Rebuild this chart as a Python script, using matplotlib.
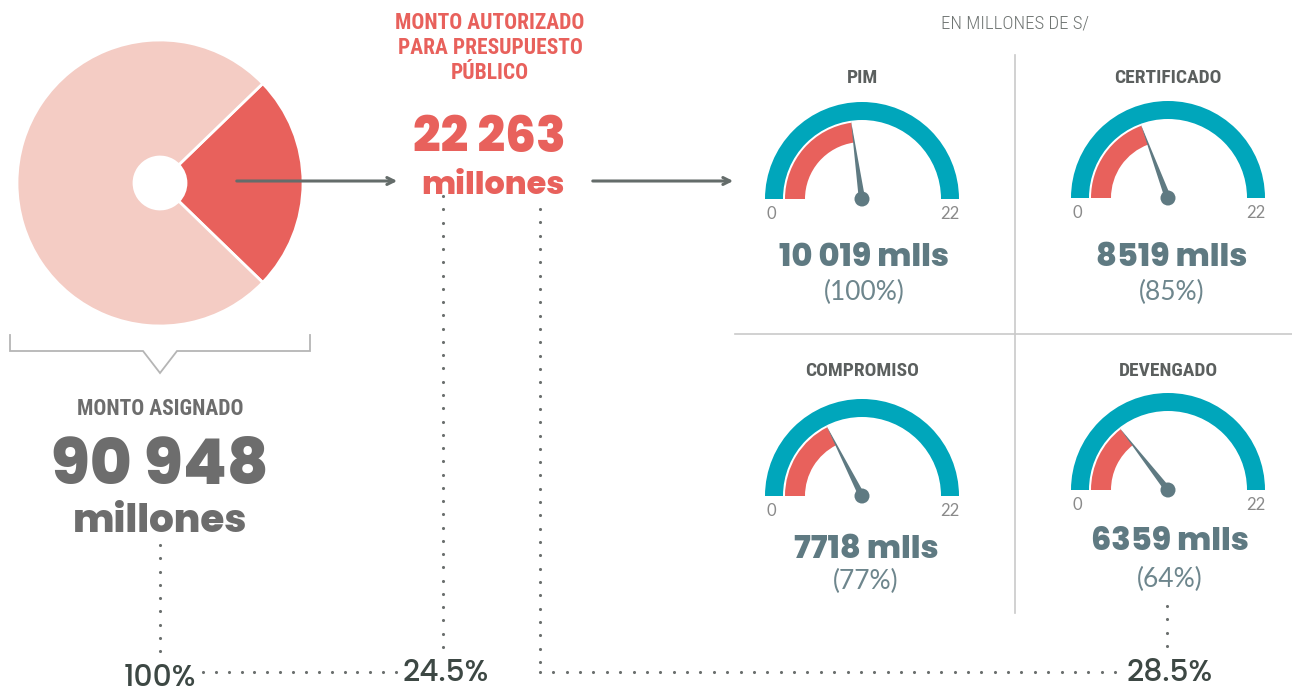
import numpy as np
import matplotlib
matplotlib.use("Agg")
import matplotlib.pyplot as plt
from matplotlib import font_manager
from matplotlib.patches import Wedge, Circle, Polygon

# ---------------- data ----------------
monto_asignado = 90948          # millones S/
monto_autorizado = 22263        # millones S/
gauge_categories = ["PIM", "CERTIFICADO", "COMPROMISO", "DEVENGADO"]
gauge_values = [10019, 8519, 7718, 6359]          # millones S/
gauge_value_labels = ["10 019 mlls", "8519 mlls", "7718 mlls", "6359 mlls"]
gauge_pct_labels = ["(100%)", "(85%)", "(77%)", "(64%)"]
gauge_min_label = "0"
gauge_max_label = "22"
gauge_max = 22000                                  # millones S/
bottom_pct_labels = ["100%", "24.5%", "28.5%"]

# ---------------- fonts ----------------
avail = {f.name for f in font_manager.fontManager.ttflist}
def pick(cands):
    for c in cands:
        if c in avail:
            return c
    return "DejaVu Sans"
COND = pick(["Roboto Condensed", "Liberation Sans Narrow", "Open Sans Condensed", "Roboto"])
GEO = pick(["Poppins", "Lato", "Roboto"])
LIGHT = pick(["Lato", "Roboto", "Open Sans"])

RED = "#e8615c"
PINK = "#f4ccc4"
TEAL = "#00a6bb"
SLATE = "#5f7a82"
GRAY = "#6d6d6d"
DOT = "#6b6f6e"

W, H = 1292, 689
fig = plt.figure(figsize=(W / 100, H / 100), dpi=100)
ax = fig.add_axes([0, 0, 1, 1])
def Y(y):
    return H - y

# ---------------- donut ----------------
frac = monto_autorizado / monto_asignado
ax.pie([monto_autorizado, monto_asignado - monto_autorizado],
       colors=[RED, PINK], startangle=-frac * 180, counterclock=True,
       center=(160, Y(183)), radius=143,
       wedgeprops=dict(width=143 - 26, edgecolor="white", linewidth=2))
ax.set_xlim(0, W)
ax.set_ylim(0, H)
ax.set_aspect("equal")
ax.axis("off")

# bracket under donut
bx = [10, 10, 143, 160, 177, 310, 310]
by = [Y(335), Y(351), Y(351), Y(373), Y(351), Y(351), Y(335)]
ax.plot(bx, by, color="#b5b5b5", lw=1.3, solid_joinstyle="miter")

# arrows
ax.annotate("", xy=(400, Y(181)), xytext=(234, Y(181)),
            arrowprops=dict(arrowstyle="->,head_length=0.5,head_width=0.25",
                            color="#646c6a", lw=2.2))
ax.annotate("", xy=(736, Y(181)), xytext=(590, Y(181)),
            arrowprops=dict(arrowstyle="->,head_length=0.5,head_width=0.25",
                            color="#646c6a", lw=2.2))

# ---------------- center texts ----------------
for i, line in enumerate(["MONTO AUTORIZADO", "PARA PRESUPUESTO", "PÚBLICO"]):
    ax.text(490, Y(23 + 25 * i), line, color=RED, fontsize=15.5, fontweight="bold",
            family=COND, ha="center", va="center")
ax.text(489, Y(140), f"{monto_autorizado:,}".replace(",", " "), color=RED,
        fontsize=35, fontweight="heavy", family=GEO, ha="center", va="center")
ax.text(493, Y(186), "millones", color=RED, fontsize=23, fontweight="heavy",
        family=GEO, ha="center", va="center")

# left texts
ax.text(160, Y(409), "MONTO ASIGNADO", color=GRAY, fontsize=15.5, fontweight="bold",
        family=COND, ha="center", va="center")
ax.text(160, Y(469), f"{monto_asignado:,}".replace(",", " "), color=GRAY,
        fontsize=46, fontweight="heavy", family=GEO, ha="center", va="center")
ax.text(160, Y(522), "millones", color=GRAY, fontsize=28, fontweight="heavy",
        family=GEO, ha="center", va="center")

ax.text(1015, Y(24), "EN MILLONES DE S/", color="#6f7472", fontsize=13.5,
        family=COND, fontweight="light", ha="center", va="center")

# ---------------- dotted connectors ----------------
def dots(x0, y0, x1, y1, step=13.3):
    n = int(round(np.hypot(x1 - x0, y1 - y0) / step))
    xs = np.linspace(x0, x1, n + 1)
    ys = np.linspace(y0, y1, n + 1)
    ax.scatter(xs, [Y(v) for v in ys], s=5, color=DOT, linewidths=0, zorder=3)

dots(160, 545, 160, 651)
dots(203, 672, 396, 672)
dots(443, 196, 443, 647)
dots(540, 209, 540, 662)
dots(540, 672, 1115, 672)
dots(1167, 606, 1167, 646)

BOT = "#3d4844"
ax.text(160, Y(679), bottom_pct_labels[0], color=BOT, fontsize=21.5,
        family=GEO, fontweight="medium", ha="center", va="center")
ax.text(446, Y(674), bottom_pct_labels[1], color=BOT, fontsize=21.5,
        family=GEO, fontweight="medium", ha="center", va="center")
ax.text(1170, Y(674), bottom_pct_labels[2], color=BOT, fontsize=21.5,
        family=GEO, fontweight="medium", ha="center", va="center")

# ---------------- grid dividers ----------------
ax.plot([1015, 1015], [Y(55), Y(613)], color="#c9c9c9", lw=1.2)
ax.plot([735, 1292], [Y(334), Y(334)], color="#c9c9c9", lw=1.2)

# ---------------- gauges ----------------
pivots = [(862, 199), (1168, 198), (862, 496), (1168, 490)]
title_y = [78, 78, 371, 371]
value_y = [258, 258, 550, 542]
pct_y = [292, 292, 581, 579]
text_dx = [2, 4, 4, 2]
R_OUT, R_TEAL_IN, R_RED_OUT, R_RED_IN = 97, 79, 77, 57

for k in range(4):
    cx, cy = pivots[k]
    cyd = Y(cy)
    ang = 180.0 * (1 - gauge_values[k] / gauge_max)
    ax.add_patch(Wedge((cx, cyd), R_OUT, 0, 180, width=R_OUT - R_TEAL_IN,
                       facecolor=TEAL, edgecolor="none"))
    ax.add_patch(Wedge((cx, cyd), R_RED_OUT, ang, 180, width=R_RED_OUT - R_RED_IN,
                       facecolor=RED, edgecolor="none"))
    t = np.deg2rad(ang)
    tip = (cx + 79 * np.cos(t), cyd + 79 * np.sin(t))
    nx, ny = -np.sin(t), np.cos(t)
    hw = 3.2
    ax.add_patch(Polygon([(cx + nx * hw, cyd + ny * hw), tip,
                          (cx - nx * hw, cyd - ny * hw)],
                         closed=True, facecolor=SLATE, edgecolor="none", zorder=4))
    ax.add_patch(Circle((cx, cyd), 7.5, facecolor=SLATE, edgecolor="none", zorder=5))
    ax.text(cx - 91, Y(cy + 15), gauge_min_label, color="#8a8a8a", fontsize=12,
            family=LIGHT, ha="center", va="center")
    ax.text(cx + 88, Y(cy + 15), gauge_max_label, color="#8a8a8a", fontsize=12,
            family=LIGHT, ha="center", va="center")
    ax.text(cx, Y(title_y[k]), gauge_categories[k], color="#5b5f5e", fontsize=14,
            fontweight="bold", family=COND, ha="center", va="center")
    ax.text(cx + text_dx[k], Y(value_y[k]), gauge_value_labels[k], color=SLATE,
            fontsize=23, fontweight="heavy", family=GEO, ha="center", va="center")
    ax.text(cx + text_dx[k], Y(pct_y[k]), gauge_pct_labels[k], color="#6e868d",
            fontsize=19, family=LIGHT, ha="center", va="center")

fig.savefig("out.png", dpi=100)
